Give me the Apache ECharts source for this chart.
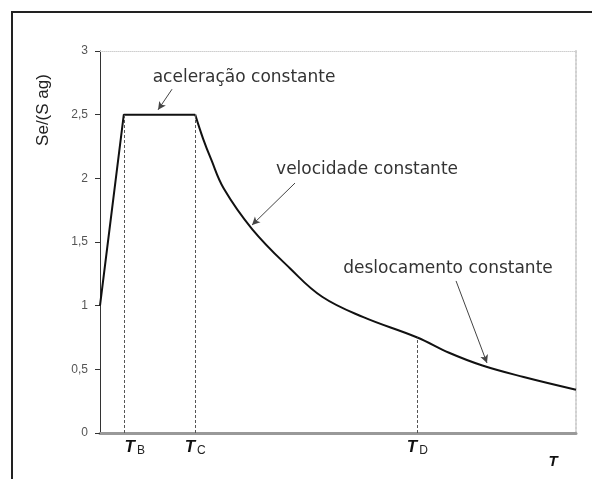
<!DOCTYPE html>
<html>
<head>
<meta charset="utf-8">
<script src="https://cdn.jsdelivr.net/npm/echarts@6/dist/echarts.min.js"></script>
<style>
  html, body { margin: 0; padding: 0; background: #fff; }
  #chart { width: 592px; height: 479px; }
</style>
</head>
<body>
<div id="chart"></div>
<script>
// espectro de resposta
var periodT = [0, 0.15, 0.6, 0.65, 0.7, 0.78, 0.96, 1.2, 1.4, 1.66, 2.0, 2.2, 2.41, 2.67, 3.0];
var seRatio = [1.0, 2.5, 2.5, 2.31, 2.15, 1.92, 1.6, 1.29, 1.07, 0.91, 0.75, 0.63, 0.53, 0.44, 0.34];

// periodos de canto
var cornerT = [0.15, 0.6, 2.0];
var cornerSe = [2.5, 2.5, 0.75];
var cornerNames = ['B', 'C', 'D'];

var yTicks = ['0', '0,5', '1', '1,5', '2', '2,5', '3'];

// anotacoes: texto e setas (coordenadas nos eixos)
var noteText = ['aceleração constante', 'velocidade constante', 'deslocamento constante'];
var notePos = [[0.908, 2.79], [1.683, 2.07], [2.193, 1.29]];
var arrowFrom = [[0.454, 2.70], [1.229, 1.963], [2.244, 1.194]];
var arrowTo = [[0.366, 2.538], [0.958, 1.633], [2.439, 0.55]];

var chart = echarts.init(document.getElementById('chart'));

var pts = periodT.map(function (t, i) { return [t, seRatio[i]]; });
var cornerLines = cornerT.map(function (t, i) {
  return [{ coord: [t, 0] }, { coord: [t, cornerSe[i]] }];
});
var arrows = arrowFrom.map(function (p, i) {
  return [{ coord: p }, { coord: arrowTo[i] }];
});
var notes = noteText.map(function (s, i) {
  return { coord: notePos[i], name: s };
});

var option = {
  animation: false,
  backgroundColor: '#fff',
  grid: { left: 100, top: 51, right: 16, bottom: 46 },
  graphic: [
    {
      type: 'rect',
      shape: { x: 12, y: 12, width: 620, height: 520 },
      style: { fill: 'none', stroke: '#222', lineWidth: 2 },
      silent: true
    },
    {
      type: 'text',
      x: 43, y: 110,
      rotation: Math.PI / 2,
      style: {
        text: 'Se/(S ag)',
        fontFamily: 'Liberation Sans',
        fontSize: 17,
        fill: '#222',
        align: 'center',
        verticalAlign: 'middle'
      }
    },
    {
      type: 'text',
      x: 553, y: 462,
      style: {
        text: 'T',
        fontFamily: 'Liberation Sans',
        fontStyle: 'italic',
        fontWeight: 'bold',
        fontSize: 15,
        fill: '#111',
        align: 'center',
        verticalAlign: 'middle'
      }
    }
  ],
  xAxis: [
    {
      type: 'value',
      min: 0,
      max: 3,
      axisLine: { lineStyle: { color: '#999', width: 3 } },
      axisTick: { show: false },
      splitLine: { show: false },
      axisLabel: {
        customValues: cornerT,
        margin: 4,
        formatter: function (v) {
          var i = cornerT.indexOf(v);
          if (i < 0) return '';
          return (i === 0 ? '{tb|T}' : '{t|T}') + '{s|' + cornerNames[i] + '}';
        },
        rich: {
          t: { fontFamily: 'Liberation Sans', fontStyle: 'italic', fontWeight: 'bold', fontSize: 17, color: '#111' },
          tb: { fontFamily: 'Liberation Sans', fontStyle: 'italic', fontWeight: 'bold', fontSize: 17, color: '#111', padding: [0, 0, 0, 22] },
          s: { fontFamily: 'Liberation Sans', fontSize: 12, color: '#222', padding: [8, 0, 0, 2] }
        }
      }
    },
    {
      type: 'value',
      position: 'top',
      min: 0,
      max: 3,
      axisLine: { onZero: false, lineStyle: { color: '#cfcfcf', width: 1, type: 'dotted' } },
      axisTick: { show: false },
      axisLabel: { show: false },
      splitLine: { show: false }
    }
  ],
  yAxis: [
    {
      type: 'value',
      min: 0,
      max: 3,
      interval: 0.5,
      axisLine: { show: true, lineStyle: { color: '#333', width: 1 } },
      axisTick: { show: true, length: 5, lineStyle: { color: '#333' } },
      splitLine: { show: false },
      axisLabel: {
        margin: 12,
        fontFamily: 'Liberation Sans',
        fontSize: 12,
        color: '#555',
        formatter: function (v) { return yTicks[Math.round(v * 2)]; }
      }
    },
    {
      type: 'value',
      position: 'right',
      min: 0,
      max: 3,
      axisLine: { show: true, onZero: false, lineStyle: { color: '#d0d0d0', width: 2, type: 'dotted' } },
      axisTick: { show: false },
      axisLabel: { show: false },
      splitLine: { show: false }
    }
  ],
  series: [
    {
      // subida e patamar
      type: 'line',
      data: pts.slice(0, 3),
      symbol: 'none',
      lineStyle: { color: '#111', width: 2 },
      markLine: {
        silent: true,
        symbol: ['none', 'none'],
        label: { show: false },
        lineStyle: { color: '#555', width: 1, type: [3, 2] },
        data: cornerLines
      },
      markPoint: {
        silent: true,
        symbol: 'circle',
        symbolSize: 0,
        label: {
          show: true,
          position: 'inside',
          formatter: '{b}',
          fontFamily: 'DejaVu Sans',
          fontSize: 17,
          color: '#333'
        },
        data: notes
      }
    },
    {
      // ramo descendente
      type: 'line',
      data: pts.slice(2),
      symbol: 'none',
      smooth: 0.4,
      lineStyle: { color: '#111', width: 2 },
      markLine: {
        silent: true,
        symbol: ['none', 'arrow'],
        symbolSize: [6, 8],
        label: { show: false },
        lineStyle: { color: '#444', width: 1, type: 'solid' },
        data: arrows
      }
    }
  ]
};

chart.setOption(option);
</script>
</body>
</html>
